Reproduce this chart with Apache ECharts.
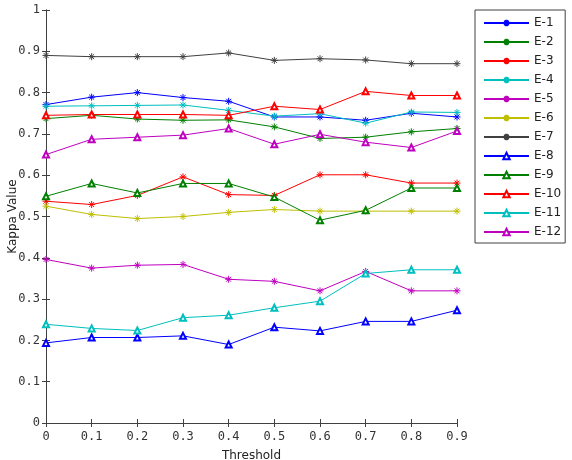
<!DOCTYPE html>
<html>
<head>
    <meta charset="UTF-8">
    <title>Kappa</title>
    <script type="text/javascript" src="https://cdn.jsdelivr.net/npm/echarts@6/dist/echarts.min.js"></script>
</head>
<body style="margin:0;">
    <div id="kappa" style="width:572px; height:460px;"></div>
    <script>
        // data
        var thresholds = [0, 0.1, 0.2, 0.3, 0.4, 0.5, 0.6, 0.7, 0.8, 0.9];
        var names = ["E-1", "E-2", "E-3", "E-4", "E-5", "E-6", "E-7", "E-8", "E-9", "E-10", "E-11", "E-12"];
        var e1  = [0.771, 0.789, 0.800, 0.788, 0.779, 0.741, 0.741, 0.733, 0.750, 0.741];
        var e2  = [0.737, 0.745, 0.736, 0.733, 0.734, 0.717, 0.689, 0.692, 0.705, 0.713];
        var e3  = [0.537, 0.529, 0.551, 0.596, 0.553, 0.551, 0.601, 0.601, 0.581, 0.581];
        var e4  = [0.767, 0.768, 0.769, 0.770, 0.757, 0.743, 0.749, 0.726, 0.753, 0.752];
        var e5  = [0.396, 0.375, 0.382, 0.384, 0.348, 0.343, 0.320, 0.367, 0.320, 0.320];
        var e6  = [0.525, 0.505, 0.495, 0.500, 0.510, 0.517, 0.513, 0.513, 0.513, 0.513];
        var e7  = [0.890, 0.887, 0.887, 0.887, 0.896, 0.878, 0.882, 0.879, 0.870, 0.870];
        var e8  = [0.194, 0.207, 0.207, 0.211, 0.190, 0.232, 0.223, 0.246, 0.246, 0.273];
        var e9  = [0.549, 0.580, 0.557, 0.580, 0.580, 0.547, 0.491, 0.515, 0.569, 0.569];
        var e10 = [0.745, 0.747, 0.747, 0.747, 0.745, 0.767, 0.759, 0.803, 0.793, 0.793];
        var e11 = [0.239, 0.229, 0.224, 0.255, 0.261, 0.279, 0.295, 0.362, 0.371, 0.371];
        var e12 = [0.650, 0.687, 0.692, 0.697, 0.713, 0.675, 0.699, 0.680, 0.667, 0.707];
        var values = [e1, e2, e3, e4, e5, e6, e7, e8, e9, e10, e11, e12];

        var colors = ['#0000ff', '#008000', '#ff0000', '#00bfbf', '#bf00bf', '#bfbf00',
                      '#404040', '#0000ff', '#008000', '#ff0000', '#00bfbf', '#bf00bf'];
        var star = 'path://M0,5L10,5M5,0L5,10M1.5,1.5L8.5,8.5M1.5,8.5L8.5,1.5';

        var chart_kappa = echarts.init(document.getElementById('kappa'), null, {renderer: 'canvas'});

        var series = names.map(function (n, i) {
            var isStar = i < 7;
            return {
                type: 'line',
                name: n,
                data: thresholds.map(function (t, j) { return [t, values[i][j]]; }),
                symbol: isStar ? star : 'emptyTriangle',
                symbolSize: isStar ? 7 : 6,
                showAllSymbol: true,
                animation: false,
                lineStyle: {width: 1, color: colors[i]},
                itemStyle: {color: colors[i], borderColor: colors[i], borderWidth: 1}
            };
        });

        var tickFont = {fontFamily: 'DejaVu Sans Mono', fontSize: 12, color: '#333'};
        var axisLine = {show: true, lineStyle: {color: '#404040', width: 1}};
        var ticks = {show: true, inside: true, length: 4, lineStyle: {color: '#404040'}};

        var option_kappa = {
            animation: false,
            backgroundColor: '#fff',
            grid: {left: 46, right: 115, top: 10, bottom: 37, containLabel: false, outerBoundsMode: 'none'},
            legend: {
                orient: 'vertical',
                left: 475,
                top: 10,
                padding: [6, 4, 4, 8],
                itemWidth: 45,
                itemHeight: 8,
                itemGap: 5,
                borderColor: '#404040',
                borderWidth: 1,
                data: names,
                textStyle: {fontFamily: 'DejaVu Sans', fontSize: 12, lineHeight: 14, color: '#222'}
            },
            xAxis: [{
                type: 'value',
                min: 0, max: 0.9, interval: 0.1,
                name: 'Threshold',
                nameLocation: 'middle',
                nameGap: 27,
                nameMoveOverlap: false,
                nameTextStyle: {fontFamily: 'DejaVu Sans', fontSize: 12, color: '#222'},
                axisLine: axisLine,
                axisTick: ticks,
                axisLabel: Object.assign({margin: 8}, tickFont),
                splitLine: {show: false}
            }, {
                type: 'value',
                position: 'top',
                min: 0, max: 0.9, interval: 0.1,
                axisLine: axisLine,
                axisTick: ticks,
                axisLabel: {show: false},
                splitLine: {show: false}
            }],
            yAxis: [{
                type: 'value',
                min: 0, max: 1, interval: 0.1,
                name: 'Kappa Value',
                nameLocation: 'middle',
                nameGap: 27,
                nameMoveOverlap: false,
                nameTextStyle: {fontFamily: 'DejaVu Sans', fontSize: 12, color: '#222'},
                axisLine: axisLine,
                axisTick: ticks,
                axisLabel: Object.assign({margin: 6}, tickFont),
                splitLine: {show: false}
            }, {
                type: 'value',
                position: 'right',
                min: 0, max: 1, interval: 0.1,
                axisLine: axisLine,
                axisTick: ticks,
                axisLabel: {show: false},
                splitLine: {show: false}
            }],
            series: series
        };
        chart_kappa.setOption(option_kappa);
    </script>
</body>
</html>
